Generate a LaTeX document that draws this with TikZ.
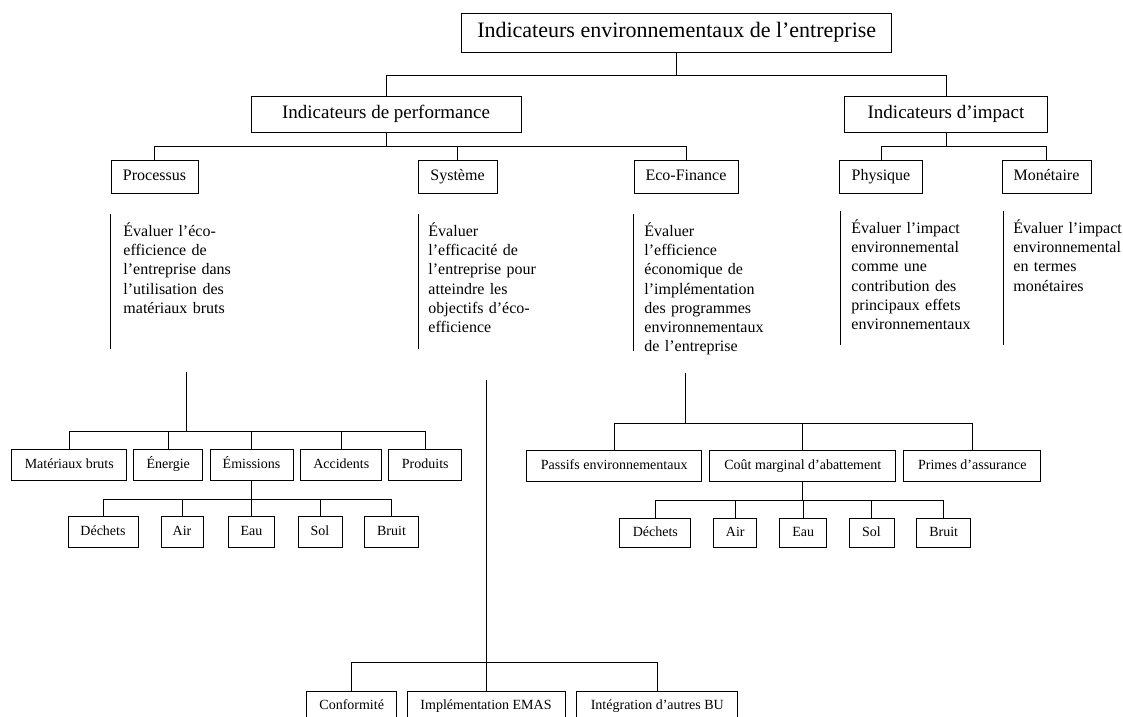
\documentclass[tikz,border=0pt]{standalone}
\usepackage{fontspec}
\setmainfont{Liberation Serif}
\newcommand\fnttitle{\fontsize{22bp}{26bp}\selectfont}
\newcommand\fntgroup{\fontsize{19bp}{22bp}\selectfont}
\newcommand\fntkind{\fontsize{16bp}{19bp}\selectfont}
\newcommand\fntdesc{\fontsize{16bp}{19.2bp}\selectfont}
\newcommand\fntleaf{\fontsize{14bp}{16bp}\selectfont}
\begin{document}
\begin{tikzpicture}[x=1bp, y=-1bp, line width=0.9bp,
  box/.style={draw, line width=1bp, inner sep=0pt, font=\fntleaf, text height=0.85em, text depth=0.15em},
  kind/.style={box, font=\fntkind, minimum height=33bp},
  desc/.style={anchor=base west, align=left, text width=170bp, inner sep=0pt, font=\fntdesc}]
\clip (0,0) rectangle (1123,717);
\fill[white] (0,0) rectangle (1123,717);

% draw the top levels
\node[box, font=\fnttitle, text height=1em, text depth=0.1em, minimum width=430bp, minimum height=39bp] (ind) at (676.7,33.3)
  {Indicateurs environnementaux de l’entreprise};
\node[box, font=\fntgroup, minimum width=270bp, minimum height=36bp] (perf) at (386,115)
  {Indicateurs de performance};
\node[box, font=\fntgroup, minimum width=203bp, minimum height=36bp] (impact) at (946,115)
  {Indicateurs d’impact};

\node[kind, minimum width=87bp] (proc) at (154.5,177) {Processus};
\node[kind, minimum width=79bp] (sys) at (457.5,177) {Système};
\node[kind, minimum width=104bp] (eco) at (686,177) {Eco-Finance};
\node[kind, minimum width=82.5bp] (phys) at (881,177) {Physique};
\node[kind, minimum width=89bp] (mon) at (1046.5,177) {Monétaire};

\draw (ind.south) -- (ind.south |- 0,75);
\foreach \n in {perf,impact}
\draw (ind.south |- 0,75) -| (\n.north);
\draw (perf.south) -- (perf.south |- 0,146);
\foreach \n in {proc,sys,eco}
\draw (perf.south |- 0,146) -| (\n.north);
\draw (impact.south) -- (impact.south |- 0,146);
\foreach \n in {phys,mon}
\draw (impact.south |- 0,146) -| (\n.north);

% draw the descriptions
\node[desc] (procd) at (123,236.5) {Évaluer l’éco-\\efficience de\\l’entreprise dans\\l’utilisation des\\matériaux bruts};
\node[desc] (sysd) at (428,236.5) {Évaluer\\l’efficacité de\\l’entreprise pour\\atteindre les\\objectifs d’éco-\\efficience};
\node[desc] (ecod) at (644,236.5) {Évaluer\\l’efficience\\économique de\\l’implémentation\\des programmes\\environnementaux\\de l’entreprise};
\node[desc] (physd) at (851,233.5) {Évaluer l’impact\\environnemental\\comme une\\contribution des\\principaux effets\\environnementaux};
\node[desc] (mond) at (1013,233.5) {Évaluer l’impact\\environnemental\\en termes\\monétaires};
\foreach \x/\a/\b in {110/214/349.3, 418.6/214/349.3, 633/214/350.7, 840/210.7/345, 1003.6/210.7/345}
\draw (\x,\a) -- (\x,\b);

% draw the processus tree
\coordinate (procroot) at (186,371.7);
\node[box, minimum width=115.3bp, minimum height=31.4bp] (mat) at (69.3,465) {Matériaux bruts};
\node[box, minimum width=68.7bp, minimum height=31.4bp] (ener) at (168.3,465) {Énergie};
\node[box, minimum width=83bp, minimum height=31.4bp] (emis) at (251.5,465) {Émissions};
\node[box, minimum width=81.3bp, minimum height=31.4bp] (acc) at (341.3,465) {Accidents};
\node[box, minimum width=72.7bp, minimum height=31.4bp] (prod) at (425.3,465) {Produits};
\draw (procroot) -- (procroot |- 0,431);
\foreach \n in {mat,ener,emis,acc,prod}
\draw (procroot |- 0,431) -| (\n.north);

\node[box, minimum width=70bp, minimum height=30.6bp] (dech) at (103,532) {Déchets};
\node[box, minimum width=42bp, minimum height=30.6bp] (air) at (182,532) {Air};
\node[box, minimum width=46bp, minimum height=30.6bp] (eau) at (251.5,532) {Eau};
\node[box, minimum width=44bp, minimum height=30.6bp] (sol) at (320,532) {Sol};
\node[box, minimum width=54bp, minimum height=30.6bp] (bruit) at (391.5,532) {Bruit};
\draw (emis.south) -- (emis.south |- 0,499);
\foreach \n in {dech,air,eau,sol,bruit}
\draw (emis.south |- 0,499) -| (\n.north);

% draw the systeme tree
\coordinate (sysroot) at (486,380);
\node[box, minimum width=90bp, minimum height=30bp] (conf) at (351.7,706) {Conformité};
\node[box, minimum width=158bp, minimum height=30bp] (emas) at (486,706) {Implémentation EMAS};
\node[box, minimum width=161.3bp, minimum height=30bp] (integ) at (657.3,706) {Intégration d’autres BU};
\draw (sysroot) -- (sysroot |- 0,662);
\foreach \n in {conf,emas,integ}
\draw (sysroot |- 0,662) -| (\n.north);

% draw the eco-finance tree
\coordinate (ecoroot) at (685.7,372.7);
\node[box, minimum width=175bp, minimum height=30.5bp] (pass) at (614.2,466) {Passifs environnementaux};
\node[box, minimum width=185.7bp, minimum height=30.5bp] (cout) at (802.8,466) {Coût marginal d’abattement};
\node[box, minimum width=136.7bp, minimum height=30.5bp] (prim) at (972.3,466) {Primes d’assurance};
\draw (ecoroot) -- (ecoroot |- 0,423);
\foreach \n in {pass,cout,prim}
\draw (ecoroot |- 0,423) -| (\n.north);

\node[box, minimum width=70.7bp, minimum height=29.5bp] (dechb) at (655.3,533) {Déchets};
\node[box, minimum width=42.7bp, minimum height=29.5bp] (airb) at (735.3,533) {Air};
\node[box, minimum width=46.7bp, minimum height=29.5bp] (eaub) at (803.3,533) {Eau};
\node[box, minimum width=45bp, minimum height=29.5bp] (solb) at (871.5,533) {Sol};
\node[box, minimum width=54bp, minimum height=29.5bp] (bruitb) at (943.7,533) {Bruit};
\draw (cout.south) -- (cout.south |- 0,500.5);
\foreach \n in {dechb,airb,eaub,solb,bruitb}
\draw (cout.south |- 0,500.5) -| (\n.north);
\end{tikzpicture}
\end{document}
